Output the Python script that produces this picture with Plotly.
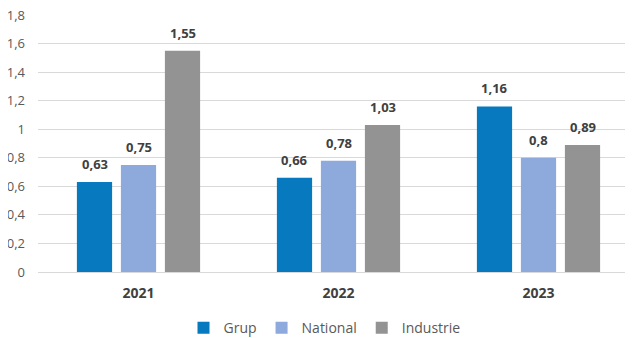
import plotly.graph_objects as go

years = ["2021", "2022", "2023"]
grup = [0.63, 0.66, 1.16]
national = [0.75, 0.78, 0.80]
industrie = [1.55, 1.03, 0.89]
grup_labels = ["0,63", "0,66", "1,16"]
national_labels = ["0,75", "0,78", "0,8"]
industrie_labels = ["1,55", "1,03", "0,89"]
y_ticks = [0, 0.2, 0.4, 0.6, 0.8, 1, 1.2, 1.4, 1.6, 1.8]
y_tick_text = ["0", "0,2", "0,4", "0,6", "0,8", "1", "1,2", "1,4", "1,6", "1,8"]

xpos = list(range(len(years)))
FONT = "Open Sans"
BARGAP = 0.34
BARGROUPGAP = 0.2
series = [
    ("Grup", grup, grup_labels, "#0779BF"),
    ("National", national, national_labels, "#8EA9DB"),
    ("Industrie", industrie, industrie_labels, "#939393"),
]
slot = (1 - BARGAP) / len(series)

fig = go.Figure()
for k, (name, vals, labs, col) in enumerate(series):
    fig.add_trace(go.Bar(
        x=xpos, y=vals, name=name, marker=dict(color=col, line=dict(width=0)),
        hoverinfo="skip",
    ))
    off = (k - (len(series) - 1) / 2) * slot
    for xi, v, t in zip(xpos, vals, labs):
        fig.add_annotation(
            x=xi + off, y=v, text=t, showarrow=False, yanchor="bottom",
            yshift=7, font=dict(family=FONT, size=13, color="#404040", weight="bold"),
        )

fig.update_layout(
    width=633, height=338,
    margin=dict(l=30, r=8, t=7, b=74),
    paper_bgcolor="white", plot_bgcolor="white",
    barmode="group", bargap=BARGAP, bargroupgap=BARGROUPGAP,
    font=dict(family=FONT, color="#595959"),
    showlegend=True,
    legend=dict(orientation="h", x=0.5, xanchor="center", xref="container",
                y=0.053, yanchor="middle", yref="container",
                font=dict(family=FONT, size=14, color="#595959"), traceorder="normal",
                itemwidth=30, tracegroupgap=0),
)
fig.update_xaxes(
    range=[-0.5025, 2.4725], tickmode="array", tickvals=xpos, ticktext=years,
    tickfont=dict(family=FONT, size=14, color="#404040", weight="bold"),
    showgrid=False, zeroline=False, showline=False, ticks="",
    ticklabelstandoff=11, automargin=False,
)
fig.update_yaxes(
    range=[0, 1.8005], tickmode="array", tickvals=y_ticks, ticktext=y_tick_text,
    tickfont=dict(family=FONT, size=13, color="#595959"),
    showgrid=True, gridcolor="#D9D9D9", gridwidth=1,
    zeroline=True, zerolinecolor="#D9D9D9", zerolinewidth=1,
    ticks="", ticklabelstandoff=12, automargin=False, ticklabeloverflow="allow",
)

fig.write_html("out.html")
